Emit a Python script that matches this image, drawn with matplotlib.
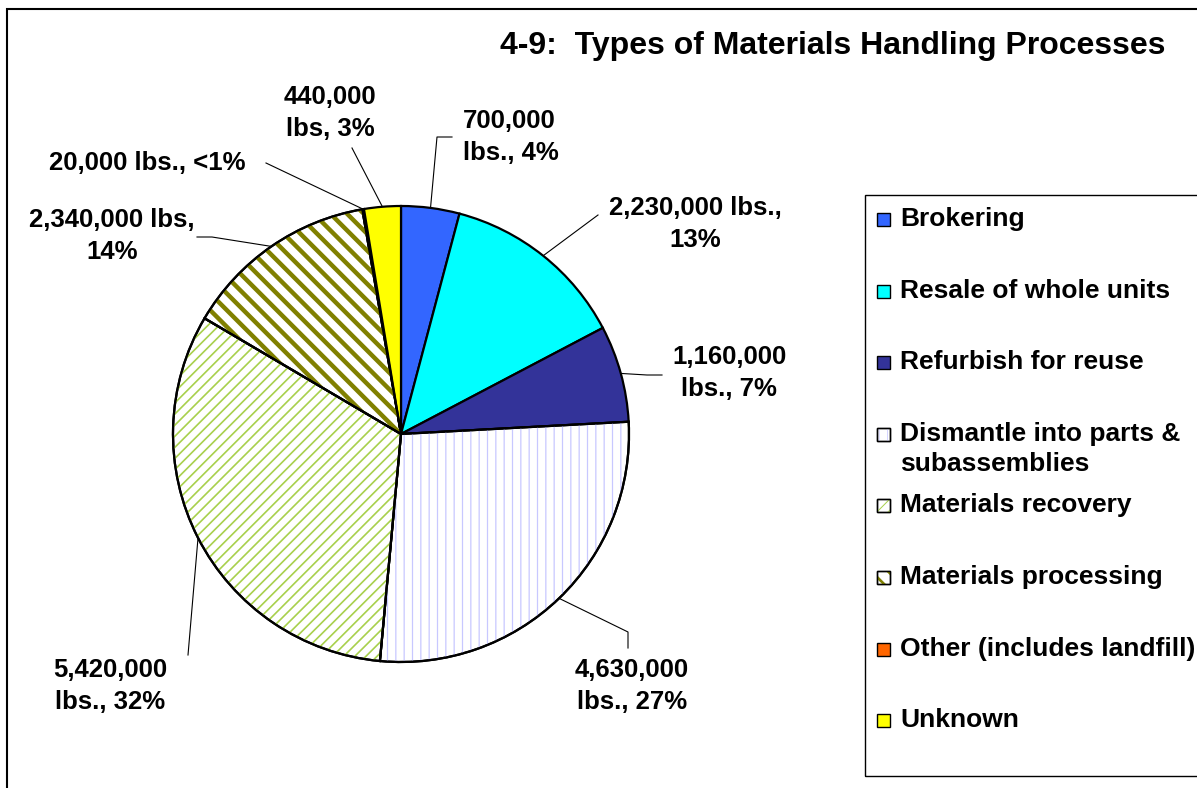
import matplotlib

matplotlib.use("Agg")
import matplotlib.pyplot as plt
import matplotlib.patches as mpatches
import numpy as np

plt.rcParams["font.family"] = ["Liberation Sans", "DejaVu Sans"]

categories = [
    "Brokering",
    "Resale of whole units",
    "Refurbish for reuse",
    "Dismantle into parts &\nsubassemblies",
    "Materials recovery",
    "Materials processing",
    "Other (includes landfill)",
    "Unknown",
]
pounds = [700000, 2230000, 1160000, 4630000, 5420000, 2340000, 20000, 440000]
slice_labels = [
    "700,000\nlbs., 4%",
    "2,230,000 lbs.,\n13%",
    "1,160,000\nlbs., 7%",
    "4,630,000\nlbs., 27%",
    "5,420,000\nlbs., 32%",
    "2,340,000 lbs,\n14%",
    "20,000 lbs., <1%",
    "440,000\nlbs, 3%",
]

face_colors = ["#3366ff", "#00ffff", "#333399", "white", "white", "white", "#ff6600", "#ffff00"]
# (hatch, hatch colour, hatch linewidth) for the patterned slices
patterns = {
    3: ("||", "#c8c8ff", 0.9),
    4: ("///", "#a8d04c", 1.2),
    5: ("\\\\", "#808000", 3.2),
}

W, H = 1197, 788


def Y(py):
    # pixel row (top down) -> data y (bottom up)
    return H - py


fig = plt.figure(figsize=(W / 100, H / 100), dpi=100)
fig.patch.set_facecolor("white")
ax = fig.add_axes([0, 0, 1, 1])

cx, cy, r = 401, Y(434), 228
wedges, _ = ax.pie(
    pounds,
    startangle=90,
    counterclock=False,
    center=(cx, cy),
    radius=r,
    colors=face_colors,
    wedgeprops=dict(edgecolor="black", linewidth=1.6),
)


def add_hatch(p, hatch, color, lw):
    p.set_fill(False)
    p.set_edgecolor(color)
    p.set_linewidth(0)
    p.set_hatch(hatch)
    if hasattr(p, "set_hatch_linewidth"):
        p.set_hatch_linewidth(lw)
    return p


for i, w in enumerate(wedges):
    if i in patterns:
        hatch, hc, hlw = patterns[i]
        with plt.rc_context({"hatch.linewidth": hlw}):
            hw = mpatches.Wedge((cx, cy), r, w.theta1, w.theta2)
            add_hatch(hw, hatch, hc, hlw)
        hw.set_zorder(w.get_zorder() + 0.1)
        ax.add_patch(hw)
        outline = mpatches.Wedge((cx, cy), r, w.theta1, w.theta2, fill=False,
                                 edgecolor="black", linewidth=1.6)
        outline.set_zorder(w.get_zorder() + 0.2)
        ax.add_patch(outline)

# label positions (pixels, top-down) and leader elbow points
label_pos = [(463, 137), (695, 224), (729, 373), (632, 686), (110, 686), (112, 236), (147, 163), (330, 113)]
label_ha = ["left", "center", "center", "center", "center", "center", "center", "center"]
leader_pts = [
    [(437, 137), (452, 137)],
    [(598, 215)],
    [(647, 375), (662, 375)],
    [(628, 632), (628, 648)],
    [(188, 655)],
    [(212, 237), (197, 237)],
    [(266, 163)],
    [(352, 148)],
]

for w, lab, (lx, ly), ha, pts in zip(wedges, slice_labels, label_pos, label_ha, leader_pts):
    mid = np.deg2rad((w.theta1 + w.theta2) / 2)
    ex, ey = cx + r * np.cos(mid), cy + r * np.sin(mid)
    xs = [ex] + [p[0] for p in pts]
    ys = [ey] + [Y(p[1]) for p in pts]
    ax.plot(xs, ys, color="black", linewidth=0.8, zorder=0.5)
    ax.text(lx, Y(ly), lab, ha=ha, va="center", fontsize=18.5, fontweight="bold",
            linespacing=1.4)

ax.text(1165, Y(46), "4-9:  Types of Materials Handling Processes", ha="right", va="center",
        fontsize=23, fontweight="bold")

# legend box drawn by hand so the two-line entry keeps Excel-like slots
ax.add_patch(mpatches.Rectangle((865, Y(776)), 400, 776 - 195, fill=False,
                                edgecolor="black", linewidth=1.0, zorder=3))
slot0, step = 219, 71.6
for i, name in enumerate(categories):
    sy = slot0 + i * step
    ax.add_patch(mpatches.Rectangle((877, Y(sy + 7)), 13, 13, facecolor=face_colors[i],
                                    edgecolor="black", linewidth=1.0, zorder=4))
    if i in patterns:
        hatch, hc, hlw = patterns[i]
        with plt.rc_context({"hatch.linewidth": hlw * 0.6}):
            hp = mpatches.Rectangle((877, Y(sy + 7)), 13, 13)
            add_hatch(hp, hatch, hc, hlw * 0.6)
        hp.set_zorder(4.1)
        ax.add_patch(hp)
        ax.add_patch(mpatches.Rectangle((877, Y(sy + 7)), 13, 13, fill=False,
                                        edgecolor="black", linewidth=1.0, zorder=4.2))
    ty = sy + 15 if "\n" in name else sy
    ax.text(900, Y(ty), name, ha="left", va="center", fontsize=19, fontweight="bold",
            linespacing=1.3, zorder=5)

# outer chart frame
ax.add_patch(mpatches.Rectangle((7, -20), W, Y(9) + 20, fill=False, edgecolor="black",
                                linewidth=1.5, zorder=6))

ax.set_xlim(0, W)
ax.set_ylim(0, H)
ax.set_aspect("equal")
ax.axis("off")

fig.savefig("out.png", dpi=100)
plt.close(fig)
